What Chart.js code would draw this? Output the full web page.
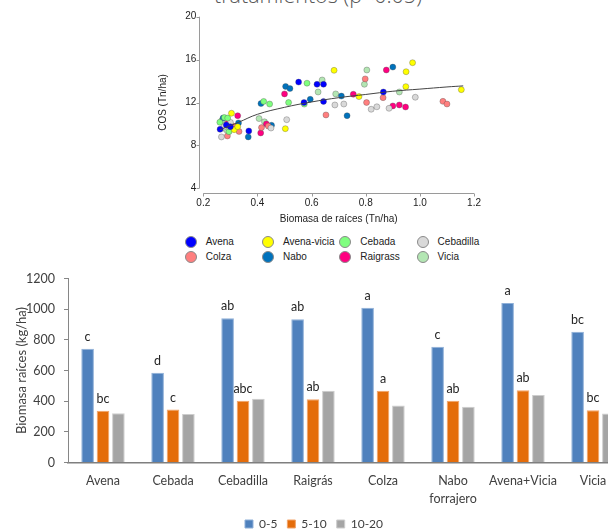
<!DOCTYPE html>
<html>
<head>
<meta charset="utf-8">
<script src="https://cdn.jsdelivr.net/npm/chart.js@4.4.1/dist/chart.umd.min.js"></script>
<style>
  body { margin: 0; background: #fff; }
  #page { position: relative; width: 608px; height: 530px; overflow: hidden; background: #fff; }
  #title { position: absolute; left: 0; width: 636px; top: -16px; text-align: center; font: 300 21.5px 'Open Sans'; line-height: 22px; color: #595959; white-space: nowrap; }
  #cos { position: absolute; left: 150px; top: 0; }
  #bio { position: absolute; left: 0; top: 262px; }
  .it { position: absolute; height: 14px; line-height: 14px; white-space: nowrap; font: 10px 'Liberation Sans', Arial, sans-serif; color: #222; }
  .dot { display: inline-block; width: 12px; height: 12px; border-radius: 50%; border: 1px solid #8a8a8a; box-sizing: border-box; vertical-align: middle; margin: -2px 9px 0 0; }
</style>
</head>
<body>
<div id="page">
  <div id="title">tratamientos (p&lt;0.05)</div>
  <canvas id="cos" width="340" height="232"></canvas>
  <div id="legend"></div>
  <canvas id="bio" width="632" height="278"></canvas>
</div>
<script>
// ---- COS vs biomasa de raíces (scatter) ----
const groupNames = ['Avena', 'Avena-vicia', 'Cebada', 'Cebadilla', 'Colza', 'Nabo', 'Raigrass', 'Vicia'];
const groupColors = ['#0000ff', '#ffff00', '#7fff7f', '#d9d9d9', '#ff7f7f', '#0072bc', '#ff0080', '#b3e6b3'];

const avena = [[0.262, 9.5], [0.285, 9.9], [0.30, 9.75], [0.368, 9.35], [0.552, 13.9], [0.572, 12.0], [0.62, 13.7], [0.644, 13.7], [0.644, 12.1], [0.865, 12.98]];
const avenaVicia = [[0.304, 11.0], [0.314, 9.47], [0.327, 9.75], [0.503, 9.56], [0.683, 15.0], [0.775, 12.55], [0.948, 13.48], [0.949, 14.87], [0.973, 15.71], [1.153, 13.2]];
const cebada = [[0.261, 10.16], [0.278, 10.6], [0.29, 10.55], [0.295, 9.28], [0.423, 12.1], [0.445, 11.86], [0.515, 12.0], [0.573, 11.85], [0.583, 13.8]];
const cebadilla = [[0.267, 8.79], [0.275, 9.7], [0.30, 10.15], [0.45, 9.62], [0.508, 10.4], [0.686, 11.77], [0.719, 11.86], [0.82, 11.37], [0.841, 11.6], [0.886, 11.46], [0.983, 12.49]];
const colza = [[0.289, 8.88], [0.31, 9.8], [0.332, 9.3], [0.415, 9.66], [0.44, 9.8], [0.653, 10.84], [0.798, 14.2], [0.803, 12.0], [0.864, 12.45], [1.085, 12.11], [1.10, 11.86]];
const nabo = [[0.273, 10.55], [0.33, 10.1], [0.366, 8.79], [0.413, 11.9], [0.452, 9.88], [0.504, 13.5], [0.52, 13.3], [0.595, 12.3], [0.71, 12.6], [0.731, 10.77], [0.90, 15.3]];
const raigrass = [[0.29, 10.05], [0.327, 10.77], [0.412, 9.16], [0.433, 10.0], [0.50, 12.8], [0.754, 12.77], [0.876, 15.03], [0.90, 11.68], [0.924, 11.77], [0.947, 11.58]];
const vicia = [[0.268, 10.3], [0.285, 9.45], [0.406, 10.5], [0.426, 10.2], [0.624, 12.98], [0.639, 14.1], [0.689, 12.8], [0.795, 13.7], [0.804, 15.03], [0.924, 12.98]];
const groupPoints = [avena, avenaVicia, cebada, cebadilla, colza, nabo, raigrass, vicia];

// curva de tendencia
const trendX = [0.26, 0.30, 0.33, 0.40, 0.50, 0.60, 0.70, 0.80, 0.90, 1.00, 1.10, 1.16];
const trendY = [9.45, 9.85, 10.15, 10.9, 11.55, 12.05, 12.45, 12.75, 13.05, 13.25, 13.45, 13.55];

const cosXTicks = [0.2, 0.4, 0.6, 0.8, 1.0, 1.2];
const cosYTicks = [4, 8, 12, 16, 20];

// ---- Biomasa de raíces por profundidad (barras) ----
const cultivos = ['Avena', 'Cebada', 'Cebadilla', 'Raigrás', 'Colza', ['Nabo', 'forrajero'], 'Avena+Vicia', 'Vicia'];
const prof0_5 = [742, 585, 940, 935, 1010, 755, 1040, 852];
const prof5_10 = [338, 345, 402, 413, 468, 402, 472, 340];
const prof10_20 = [322, 316, 415, 468, 372, 363, 441, 320];
const letras0_5 = ['c', 'd', 'ab', 'ab', 'a', 'c', 'a', 'bc'];
const letras5_10 = ['bc', 'c', 'abc', 'ab', 'a', 'ab', 'ab', 'bc'];
const bioYTicks = [0, 200, 400, 600, 800, 1000, 1200];

const arial = "'Liberation Sans', Arial, sans-serif";
const calib = "Lato, 'Open Sans', sans-serif";

// legend for the scatter, 4 columns x 2 rows
const legendBox = document.getElementById('legend');
groupNames.forEach((name, i) => {
  const it = document.createElement('div');
  it.className = 'it';
  it.style.left = (184.7 + (i % 4) * 77.3) + 'px';
  it.style.top = (236.3 + Math.floor(i / 4) * 15) + 'px';
  it.innerHTML = '<span class="dot" style="background:' + groupColors[i] + '"></span>' + name;
  legendBox.appendChild(it);
});

// R style detached axes
const rAxes = {
  id: 'rAxes',
  beforeDatasetsDraw(chart) {
    const { ctx, chartArea, scales: { x, y } } = chart;
    ctx.save();
    ctx.strokeStyle = '#9a9a9a';
    ctx.lineWidth = 1;
    ctx.beginPath();
    const ax = Math.round(chartArea.left - 4) + 0.5;
    ctx.moveTo(ax, y.getPixelForValue(cosYTicks[0]));
    ctx.lineTo(ax, y.getPixelForValue(cosYTicks[cosYTicks.length - 1]));
    cosYTicks.forEach(v => {
      const py = Math.round(y.getPixelForValue(v)) + 0.5;
      ctx.moveTo(ax, py); ctx.lineTo(ax - 3, py);
    });
    const ay = Math.round(chartArea.bottom + 5) + 0.5;
    ctx.moveTo(x.getPixelForValue(cosXTicks[0]), ay);
    ctx.lineTo(x.getPixelForValue(cosXTicks[cosXTicks.length - 1]), ay);
    cosXTicks.forEach(v => {
      const px = Math.round(x.getPixelForValue(v)) + 0.5;
      ctx.moveTo(px, ay); ctx.lineTo(px, ay + 3);
    });
    ctx.stroke();
    ctx.restore();
  }
};

new Chart(document.getElementById('cos'), {
  type: 'scatter',
  data: {
    datasets: groupPoints.map((pts, i) => ({
      label: groupNames[i],
      data: pts.map(p => ({ x: p[0], y: p[1] })),
      backgroundColor: groupColors[i],
      borderColor: 'rgba(70,70,70,0.55)',
      borderWidth: 0.6,
      pointRadius: 3
    })).concat([{
      type: 'line',
      label: 'tendencia',
      data: trendX.map((v, i) => ({ x: v, y: trendY[i] })),
      borderColor: '#444',
      borderWidth: 1,
      pointRadius: 0,
      tension: 0.4,
      fill: false,
      order: -1
    }])
  },
  options: {
    responsive: false,
    animation: false,
    events: [],
    layout: { padding: { left: 0, right: 12.3, top: 16.7, bottom: 0 } },
    plugins: { legend: { display: false }, tooltip: { enabled: false } },
    scales: {
      x: {
        type: 'linear', min: 0.2, max: 1.2,
        afterBuildTicks: s => { s.ticks = cosXTicks.map(v => ({ value: v })); },
        afterFit: s => { s.height = 43.7; },
        grid: { display: false, drawTicks: false },
        border: { display: false },
        ticks: { padding: 9, color: '#222', font: { size: 10, family: arial }, callback: v => v.toFixed(1) },
        title: { display: true, text: 'Biomasa de raíces (Tn/ha)', color: '#222', font: { size: 10, family: arial }, padding: { top: 0, bottom: 7 } }
      },
      y: {
        min: 4, max: 20,
        afterBuildTicks: s => { s.ticks = cosYTicks.map(v => ({ value: v })); },
        afterFit: s => { s.width = 53.3; },
        grid: { display: false, drawTicks: false },
        border: { display: false },
        ticks: { padding: 7, color: '#222', font: { size: 10, family: arial } },
        title: { display: true, text: 'COS (Tn/ha)', color: '#222', font: { size: 10, family: arial }, padding: { top: 7, bottom: 0 } }
      }
    }
  },
  plugins: [rAxes]
});

// letters above bars
const letters = {
  id: 'letters',
  afterDatasetsDraw(chart) {
    const ctx = chart.ctx;
    ctx.save();
    ctx.font = '12.5px ' + calib;
    ctx.fillStyle = '#262626';
    ctx.textAlign = 'center';
    ctx.textBaseline = 'middle';
    [letras0_5, letras5_10].forEach((arr, di) => {
      chart.getDatasetMeta(di).data.forEach((bar, i) => ctx.fillText(arr[i], bar.x, bar.y - 12));
    });
    ctx.restore();
  }
};

new Chart(document.getElementById('bio'), {
  type: 'bar',
  data: {
    labels: cultivos,
    datasets: [
      { label: '0-5', data: prof0_5, backgroundColor: '#4f81bd', borderColor: '#8fb0d8', borderWidth: 1 },
      { label: '5-10', data: prof5_10, backgroundColor: '#e46c0a', borderColor: '#f2a46a', borderWidth: 1 },
      { label: '10-20', data: prof10_20, backgroundColor: '#a5a5a5', borderColor: '#cdcdcd', borderWidth: 1 }
    ]
  },
  options: {
    responsive: false,
    animation: false,
    events: [],
    categoryPercentage: 0.66,
    barPercentage: 0.82,
    layout: { padding: { left: 0, right: 4, top: 15, bottom: 0 } },
    plugins: {
      tooltip: { enabled: false },
      legend: {
        position: 'bottom',
        labels: { boxWidth: 8, boxHeight: 8, padding: 10, color: '#404040', font: { size: 12, family: calib } }
      }
    },
    scales: {
      x: {
        afterFit: s => { s.height = 45.5; },
        grid: { display: false, drawTicks: false },
        border: { color: '#7f7f7f', width: 1.5 },
        ticks: { padding: 9.5, color: '#404040', font: { size: 12.5, family: calib, lineHeight: 1.45 }, maxRotation: 0, autoSkip: false }
      },
      y: {
        min: 0, max: 1200,
        afterBuildTicks: s => { s.ticks = bioYTicks.map(v => ({ value: v })); },
        afterFit: s => { s.width = 68; },
        grid: { drawOnChartArea: false, drawTicks: true, tickLength: 4, color: '#868686' },
        border: { color: '#868686', width: 1 },
        ticks: { padding: 9, color: '#404040', font: { size: 12.5, family: calib }, callback: v => String(v) },
        title: { display: true, text: 'Biomasa raíces (kg/ha)', color: '#404040', font: { size: 13, family: calib }, padding: { top: 14, bottom: 0 } }
      }
    }
  },
  plugins: [letters]
});
</script>
</body>
</html>
